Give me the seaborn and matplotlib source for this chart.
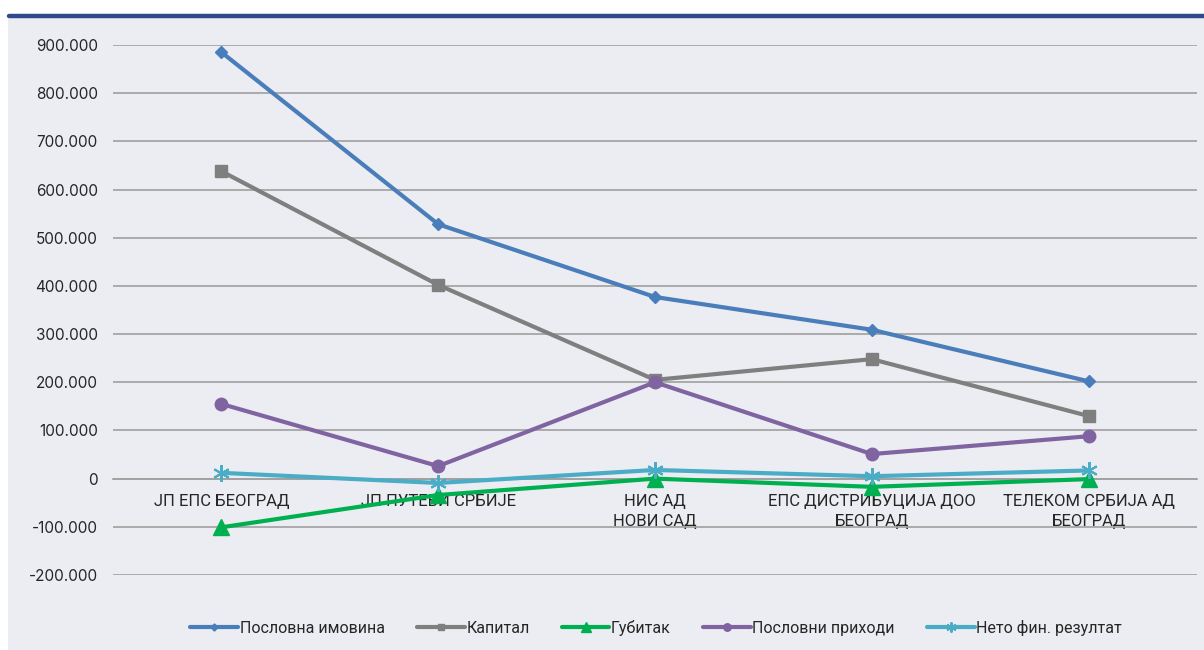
import matplotlib.pyplot as plt
import matplotlib.ticker as mticker
from matplotlib.lines import Line2D
from matplotlib.patches import Rectangle
import pandas as pd
import seaborn as sns

categories = ["ЈП ЕПС БЕОГРАД", "ЈП ПУТЕВИ СРБИЈЕ", "НИС АД\nНОВИ САД",
              "ЕПС ДИСТРИБУЦИЈА ДОО\nБЕОГРАД", "ТЕЛЕКОМ СРБИЈА АД\nБЕОГРАД"]
poslovna_imovina = [885000, 528000, 377000, 309000, 202000]
kapital = [638000, 402000, 205000, 248000, 130000]
gubitak = [-101000, -34000, 0, -17000, -1000]
poslovni_prihodi = [155000, 26000, 200000, 51000, 88000]
neto_rezultat = [12000, -9000, 18000, 5000, 17000]
series_names = ["Пословна имовина", "Капитал", "Губитак", "Пословни приходи", "Нето фин. резултат"]

df = pd.DataFrame({
    "pos": list(range(len(categories))) * 5,
    "value": poslovna_imovina + kapital + gubitak + poslovni_prihodi + neto_rezultat,
    "series": [s for s in series_names for _ in categories],
})

styles = {
    "Пословна имовина": dict(color="#4A7EBB", marker="D", ms=6),
    "Капитал": dict(color="#7F7F7F", marker="s", ms=8),
    "Губитак": dict(color="#00B050", marker="^", ms=12),
    "Пословни приходи": dict(color="#8064A2", marker="o", ms=9),
    "Нето фин. резултат": dict(color="#4BACC6", marker=(6, 2, 0), ms=12),
}

bg = "#ECEDF2"
sns.set_style("white")
narrow = ["Roboto", "DejaVu Sans"]
plt.rcParams["font.family"] = ["Inter", "DejaVu Sans"]

fig = plt.figure(figsize=(12.04, 6.5), dpi=100)
fig.patch.set_facecolor("white")
fig.add_artist(Rectangle((8 / 1204, 0), 1, 1 - 16 / 650, transform=fig.transFigure,
                         facecolor=bg, edgecolor="none", zorder=-10))
fig.add_artist(Line2D([9 / 1204, 1], [1 - 16 / 650, 1 - 16 / 650], transform=fig.transFigure,
                      color="#2E4A8C", lw=3.2, solid_capstyle="round"))

ax = fig.add_axes([113 / 1204, 75 / 650, (1197 - 113) / 1204, (575 - 45) / 650])
ax.set_facecolor(bg)

for name in series_names:
    st = styles[name]
    sub = df[df["series"] == name]
    sns.lineplot(data=sub, x="pos", y="value", ax=ax, color=st["color"], lw=3,
                 marker=st["marker"], markersize=st["ms"], markeredgecolor=st["color"],
                 markeredgewidth=1.5 if name == "Нето фин. резултат" else 1,
                 label=name, zorder=3)

ax.set_xlim(-0.5, len(categories) - 0.5)
ax.set_ylim(-200000, 900000)
ax.yaxis.set_major_locator(mticker.MultipleLocator(100000))
ax.yaxis.set_major_formatter(mticker.FuncFormatter(
    lambda v, p: "0" if v == 0 else f"{int(v):,}".replace(",", ".")))
ax.grid(axis="y", color="#A0A0A0", lw=1.2)
ax.set_axisbelow(True)

for s in ["top", "right", "left"]:
    ax.spines[s].set_visible(False)
ax.spines["bottom"].set_position(("data", 0))
ax.spines["bottom"].set_color("#A0A0A0")
ax.spines["bottom"].set_linewidth(1.2)

ax.set_xticks(range(len(categories)))
ax.set_xticklabels(categories, family=narrow, fontsize=12, linespacing=1.45)
ax.set_xticks([i - 0.5 for i in range(len(categories) + 1)], minor=True)
ax.tick_params(axis="x", which="major", length=0, pad=11)
ax.tick_params(axis="x", which="minor", length=5, color="#A0A0A0", width=1)
ax.tick_params(axis="y", length=5, color="#A0A0A0", width=1.2, labelsize=11, pad=6)
ax.set_xlabel("")
ax.set_ylabel("")

handles, labels = ax.get_legend_handles_labels()
ax.legend_.remove()
fig.legend(handles, labels, loc="center", bbox_to_anchor=(0.545, 1 - 628 / 650), ncol=5,
           frameon=False, prop={"family": narrow, "size": 11.5}, handlelength=3.0,
           handletextpad=0.1, columnspacing=2.0, markerscale=0.6)

fig.savefig("out.png", dpi=100, facecolor=fig.get_facecolor())
